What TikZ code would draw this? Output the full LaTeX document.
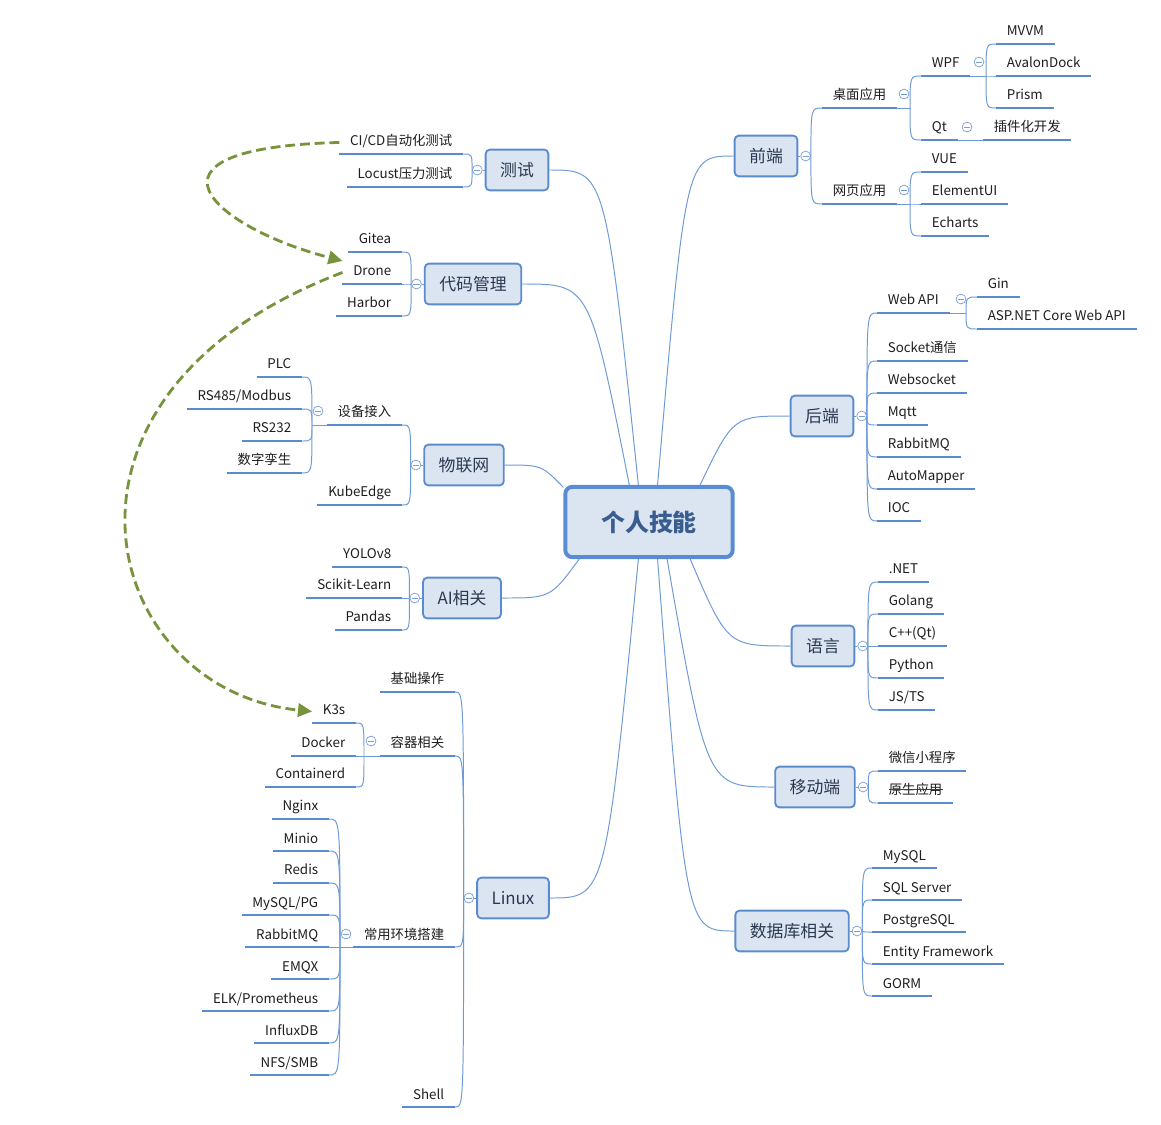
\documentclass[tikz,border=0pt]{standalone}
\usepackage{fontspec}
\setmainfont{Noto Sans CJK SC}
\usepackage{xcolor}
\usepackage{tikz}
\usetikzlibrary{calc, positioning, arrows.meta}

\definecolor{linkblue}{HTML}{6E9BD7}
\definecolor{ulineblue}{HTML}{5A8AD0}
\definecolor{topicedge}{HTML}{5B8BCF}
\definecolor{topicfill}{HTML}{DBE5F2}
\definecolor{rootedge}{HTML}{588CD4}
\definecolor{roottext}{HTML}{3A5D8F}
\definecolor{topictext}{HTML}{2B3A52}
\definecolor{leaftext}{HTML}{1E1E1E}
\definecolor{foldblue}{HTML}{7A9DD6}
\definecolor{relgreen}{HTML}{77933C}

\begin{document}
\begin{tikzpicture}[x=0.025cm, y=0.025cm,
    root/.style={draw=rootedge, fill=topicfill, line width=2.8pt, rounded corners=5pt,
        minimum width=119pt, minimum height=50pt, text=roottext,
        font=\fontsize{17}{20}\selectfont\bfseries},
    topic/.style={draw=topicedge, fill=topicfill, line width=1.3pt, rounded corners=3pt,
        inner xsep=10.3pt, minimum height=29pt, text=topictext,
        font=\fontsize{12}{14}\selectfont},
    leaf/.style={inner xsep=7.5pt, inner ysep=3.5pt, text height=7pt, text depth=2pt,
        text=leaftext, font=\fontsize{9.5}{11}\selectfont},
    rleaf/.style={leaf, anchor=south west},
    lleaf/.style={leaf, anchor=south east},
    fold/.style={circle, draw=foldblue, fill=white, line width=0.5pt, inner sep=0pt,
        minimum size=7pt, path picture={\draw[foldblue, line width=0.5pt]
        ([xshift=-2.2pt]path picture bounding box.center) -- ([xshift=2.2pt]path picture bounding box.center);}},
    link/.style={draw=linkblue, line width=0.7pt},
    uline/.style={draw=ulineblue, line width=2pt},
    strike/.style={draw=black!75, line width=0.8pt},
    relation/.style={draw=relgreen, line width=2pt, dash pattern=on 7pt off 3.5pt,
        -{Triangle[length=10pt, width=9.5pt]}}]
    % 1. Background and frame
    \fill[white] (0,0) rectangle (1161,-1124);
    \useasboundingbox (0,0) rectangle (1161,-1124);

    % 2. Center and main topics
    \node[root] (root) at (649,-522) {个人技能};
    \node[topic] (test) at (517,-170) {测试};
    \node[topic] (code) at (473,-284) {代码管理};
    \node[topic] (iot) at (464,-465) {物联网};
    \node[topic] (ai) at (462,-598) {AI相关};
    \node[topic] (linux) at (513,-898) {Linux};
    \node[topic] (front) at (766,-156) {前端};
    \node[topic] (back) at (822,-416) {后端};
    \node[topic] (lang) at (823,-646) {语言};
    \node[topic] (mobile) at (815,-787) {移动端};
    \node[topic] (db) at (792,-931) {数据库相关};

    % 3. Fold markers
    \foreach \tp in {front, back, lang, mobile, db}
        \node[fold, right=1.5pt of \tp] (c\tp) {};
    \foreach \tp in {test, code, iot, ai, linux}
        \node[fold, left=1.5pt of \tp] (c\tp) {};
    \node[fold] (cdesk) at (904,-94) {};
    \node[fold] (cweb) at (904,-190) {};
    \node[fold] (cwpf) at (979,-62) {};
    \node[fold] (cqt) at (967,-127) {};
    \node[fold] (cwebapi) at (961,-299) {};
    \node[fold] (cdevice) at (318,-411) {};
    \node[fold] (ccontain) at (371,-741) {};
    \node[fold] (cenv) at (346,-934) {};
    \coordinate (jdesk) at (910,-108);
    \coordinate (jweb) at (910,-204);
    \coordinate (jwpf) at (986,-76);
    \coordinate (jwebapi) at (966,-313);
    \coordinate (jdevice) at (312,-425);
    \coordinate (jcontain) at (364,-756);
    \coordinate (jenv) at (340,-947);

    % 4. Right side items
    \node[rleaf] (desk) at (822,-108) {桌面应用};
    \node[rleaf] (web) at (822,-204) {网页应用};
    \node[rleaf] (wpf) at (921,-76) {WPF};
    \node[rleaf] (qt) at (921,-140) {Qt};
    \node[rleaf] (mvvm) at (996,-44) {MVVM};
    \node[rleaf] (avalon) at (996,-76) {AvalonDock};
    \node[rleaf] (prism) at (996,-108) {Prism};
    \node[rleaf] (plugin) at (983,-140) {插件化开发};
    \node[rleaf] (vue) at (921,-172) {VUE};
    \node[rleaf] (elui) at (921,-204) {ElementUI};
    \node[rleaf] (echarts) at (921,-236) {Echarts};
    \node[rleaf] (webapi) at (877,-313) {Web API};
    \node[rleaf] (gin) at (977,-297) {Gin};
    \node[rleaf] (aspnet) at (977,-329) {ASP.NET Core Web API};
    \node[rleaf] (socket) at (877,-361) {Socket通信};
    \node[rleaf] (wsock) at (877,-393) {Websocket};
    \node[rleaf] (mqtt) at (877,-425) {Mqtt};
    \node[rleaf] (rabbit) at (877,-457) {RabbitMQ};
    \node[rleaf] (automap) at (877,-489) {AutoMapper};
    \node[rleaf] (ioc) at (877,-521) {IOC};
    \node[rleaf] (dotnet) at (878,-582) {.NET};
    \node[rleaf] (golang) at (878,-614) {Golang};
    \node[rleaf] (cpp) at (878,-646) {C++(Qt)};
    \node[rleaf] (python) at (878,-678) {Python};
    \node[rleaf] (jsts) at (878,-710) {JS/TS};
    \node[rleaf] (wechat) at (878,-771) {微信小程序};
    \node[rleaf] (native) at (878,-803) {原生应用};
    \node[rleaf] (mysql) at (872,-868) {MySQL};
    \node[rleaf] (sqlsrv) at (872,-900) {SQL Server};
    \node[rleaf] (pgsql) at (872,-932) {PostgreSQL};
    \node[rleaf] (ef) at (872,-964) {Entity Framework};
    \node[rleaf] (gorm) at (872,-996) {GORM};

    % 5. Left side items
    \node[lleaf] (cicd) at (463,-154) {CI/CD自动化测试};
    \node[lleaf] (locust) at (463,-187) {Locust压力测试};
    \node[lleaf] (gitea) at (402,-252) {Gitea};
    \node[lleaf] (drone) at (402,-284) {Drone};
    \node[lleaf] (harbor) at (402,-316) {Harbor};
    \node[lleaf] (device) at (402,-425) {设备接入};
    \node[lleaf] (plc) at (302,-377) {PLC};
    \node[lleaf] (rs485) at (302,-409) {RS485/Modbus};
    \node[lleaf] (rs232) at (302,-441) {RS232};
    \node[lleaf] (twin) at (302,-473) {数字孪生};
    \node[lleaf] (kedge) at (402,-505) {KubeEdge};
    \node[lleaf] (yolo) at (402,-567) {YOLOv8};
    \node[lleaf] (sklearn) at (402,-598) {Scikit-Learn};
    \node[lleaf] (pandas) at (402,-630) {Pandas};
    \node[lleaf] (basic) at (455,-692) {基础操作};
    \node[lleaf] (contain) at (455,-756) {容器相关};
    \node[lleaf] (k3s) at (356,-723) {K3s};
    \node[lleaf] (docker) at (356,-756) {Docker};
    \node[lleaf] (ctrd) at (356,-787) {Containerd};
    \node[lleaf] (envset) at (455,-947) {常用环境搭建};
    \node[lleaf] (nginx) at (329,-819) {Nginx};
    \node[lleaf] (minio) at (329,-851) {Minio};
    \node[lleaf] (redis) at (329,-883) {Redis};
    \node[lleaf] (mysqlpg) at (329,-915) {MySQL/PG};
    \node[lleaf] (rabbitl) at (329,-947) {RabbitMQ};
    \node[lleaf] (emqx) at (329,-979) {EMQX};
    \node[lleaf] (elk) at (329,-1011) {ELK/Prometheus};
    \node[lleaf] (influx) at (329,-1043) {InfluxDB};
    \node[lleaf] (nfs) at (329,-1075) {NFS/SMB};
    \node[lleaf] (shell) at (455,-1107) {Shell};

    % 6. Underlines
    \foreach \n in {desk, web, wpf, qt, mvvm, avalon, prism, plugin, vue, elui, echarts,
        webapi, gin, aspnet, socket, wsock, mqtt, rabbit, automap, ioc,
        dotnet, golang, cpp, python, jsts, wechat, native,
        mysql, sqlsrv, pgsql, ef, gorm,
        cicd, locust, gitea, drone, harbor, device, plc, rs485, rs232, twin, kedge,
        yolo, sklearn, pandas, basic, contain, k3s, docker, ctrd, envset,
        nginx, minio, redis, mysqlpg, rabbitl, emqx, elk, influx, nfs, shell}
        \draw[uline] (\n.south west) -- (\n.south east);
    \draw[strike] ([xshift=7.5pt, yshift=4pt]native.base west) -- ([xshift=-7.5pt, yshift=4pt]native.base east);

    % 7. Center to topics
    \foreach \tp/\ang in {test/106, code/118, iot/158, ai/208, linux/254}
        \draw[link] (\tp.east) .. controls ($(\tp.east)!.63!(\tp.east -| root.\ang)$) .. (root.\ang);
    \foreach \tp/\ang in {front/77, back/36, lang/318, mobile/296, db/283}
        \draw[link] (\tp.west) .. controls ($(\tp.west)!.63!(\tp.west -| root.\ang)$) .. (root.\ang);
    \foreach \tp in {front, back, lang, mobile, db}
        \draw[link] (\tp.east) -- (c\tp.west);
    \foreach \tp in {test, code, iot, ai, linux}
        \draw[link] (\tp.west) -- (c\tp.east);

    % 8. Topics to items
    \foreach \n in {desk, web}
        \draw[link] (cfront.east) .. controls (cfront.east |- \n.south west) .. (\n.south west);
    \foreach \n in {webapi, socket, wsock, mqtt, rabbit, automap, ioc}
        \draw[link] (cback.east) .. controls (cback.east |- \n.south west) .. (\n.south west);
    \foreach \n in {dotnet, golang, cpp, python, jsts}
        \draw[link] (clang.east) .. controls (clang.east |- \n.south west) .. (\n.south west);
    \foreach \n in {wechat, native}
        \draw[link] (cmobile.east) .. controls (cmobile.east |- \n.south west) .. (\n.south west);
    \foreach \n in {mysql, sqlsrv, pgsql, ef, gorm}
        \draw[link] (cdb.east) .. controls (cdb.east |- \n.south west) .. (\n.south west);
    \foreach \n in {cicd, locust}
        \draw[link] (ctest.west) .. controls (ctest.west |- \n.south east) .. (\n.south east);
    \foreach \n in {gitea, drone, harbor}
        \draw[link] (ccode.west) .. controls (ccode.west |- \n.south east) .. (\n.south east);
    \foreach \n in {device, kedge}
        \draw[link] (ciot.west) .. controls (ciot.west |- \n.south east) .. (\n.south east);
    \foreach \n in {yolo, sklearn, pandas}
        \draw[link] (cai.west) .. controls (cai.west |- \n.south east) .. (\n.south east);
    \foreach \n in {basic, contain, envset, shell}
        \draw[link] (clinux.west) .. controls (clinux.west |- \n.south east) .. (\n.south east);

    % 9. Sub items
    \draw[link] (desk.south east) -- (jdesk);
    \foreach \n in {wpf, qt}
        \draw[link] (jdesk) .. controls (jdesk |- \n.south west) .. (\n.south west);
    \draw[link] (wpf.south east) -- (jwpf);
    \foreach \n in {mvvm, avalon, prism}
        \draw[link] (jwpf) .. controls (jwpf |- \n.south west) .. (\n.south west);
    \draw[link] (qt.south east) -- (plugin.south west);
    \draw[link] (web.south east) -- (jweb);
    \foreach \n in {vue, elui, echarts}
        \draw[link] (jweb) .. controls (jweb |- \n.south west) .. (\n.south west);
    \draw[link] (webapi.south east) -- (jwebapi);
    \foreach \n in {gin, aspnet}
        \draw[link] (jwebapi) .. controls (jwebapi |- \n.south west) .. (\n.south west);
    \draw[link] (device.south west) -- (jdevice);
    \foreach \n in {plc, rs485, rs232, twin}
        \draw[link] (jdevice) .. controls (jdevice |- \n.south east) .. (\n.south east);
    \draw[link] (contain.south west) -- (jcontain);
    \foreach \n in {k3s, docker, ctrd}
        \draw[link] (jcontain) .. controls (jcontain |- \n.south east) .. (\n.south east);
    \draw[link] (envset.south west) -- (jenv);
    \foreach \n in {nginx, minio, redis, mysqlpg, rabbitl, emqx, elk, influx, nfs}
        \draw[link] (jenv) .. controls (jenv |- \n.south east) .. (\n.south east);

    % 10. Relations
    \draw[relation] (cicd.west) .. controls (120,-148) and (215,-228) .. (drone.north west);
    \draw[relation] (drone.west) .. controls (20,-395) and (100,-690) .. (k3s.west);
\end{tikzpicture}
\end{document}
